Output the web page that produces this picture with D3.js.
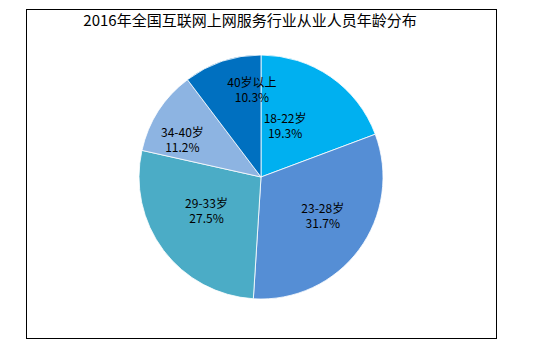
<!DOCTYPE html>
<html>
<head>
<meta charset="utf-8">
<script src="https://cdn.jsdelivr.net/npm/d3@7"></script>
<style>
  body { margin: 0; background: #fff; }
  text { font-family: "Microsoft YaHei", "Noto Sans CJK SC", sans-serif; }
</style>
</head>
<body>
<div id="chart"></div>
<script>
// chart data
const title = "2016年全国互联网上网服务行业从业人员年龄分布";
const categories = ["18-22岁", "23-28岁", "29-33岁", "34-40岁", "40岁以上"];
const values = [19.3, 31.7, 27.5, 11.2, 10.3];
const colors = ["#00b0f0", "#558ed5", "#4bacc6", "#8db4e2", "#0070c0"];

const width = 535, height = 351;
const cx = 261, cy = 177, radius = 122;

// label nudges (px) off the arc centroid, Excel best-fit look
const labelNudge = [[-19, 10], [1, -7], [6, -12], [-15, 3], [15, -16]];

const svg = d3.select("#chart").append("svg")
    .attr("width", width)
    .attr("height", height);

// outer frame
svg.append("rect")
    .attr("x", 26.5)
    .attr("y", 9.5)
    .attr("width", 470)
    .attr("height", 329)
    .attr("fill", "none")
    .attr("stroke", "#000")
    .attr("stroke-width", 1);

svg.append("text")
    .attr("x", 250)
    .attr("y", 26)
    .attr("text-anchor", "middle")
    .style("font-size", "15px")
    .attr("fill", "#000")
    .text(title);

const pie = d3.pie().sort(null).value(d => d.value);
const arc = d3.arc().innerRadius(0).outerRadius(radius);
const labelArc = d3.arc().innerRadius(radius * 0.62).outerRadius(radius * 0.62);

const data = categories.map((c, i) => ({name: c, value: values[i], color: colors[i]}));

const g = svg.append("g")
    .attr("transform", `translate(${cx},${cy})`);

const slices = g.selectAll(".slice")
    .data(pie(data))
    .enter().append("g")
    .attr("class", "slice");

slices.append("path")
    .attr("d", arc)
    .attr("fill", d => d.data.color)
    .attr("stroke", "#fff")
    .attr("stroke-width", 0.8);

const labels = slices.append("text")
    .attr("transform", (d, i) => {
        const c = labelArc.centroid(d);
        return `translate(${c[0] + labelNudge[i][0]},${c[1] + labelNudge[i][1]})`;
    })
    .attr("text-anchor", "middle")
    .style("font-size", "12px")
    .attr("fill", "#000");

labels.append("tspan")
    .attr("x", 0)
    .attr("y", -2)
    .text(d => d.data.name);

labels.append("tspan")
    .attr("x", 0)
    .attr("y", 13)
    .text(d => d.data.value.toFixed(1) + "%");
</script>
</body>
</html>
